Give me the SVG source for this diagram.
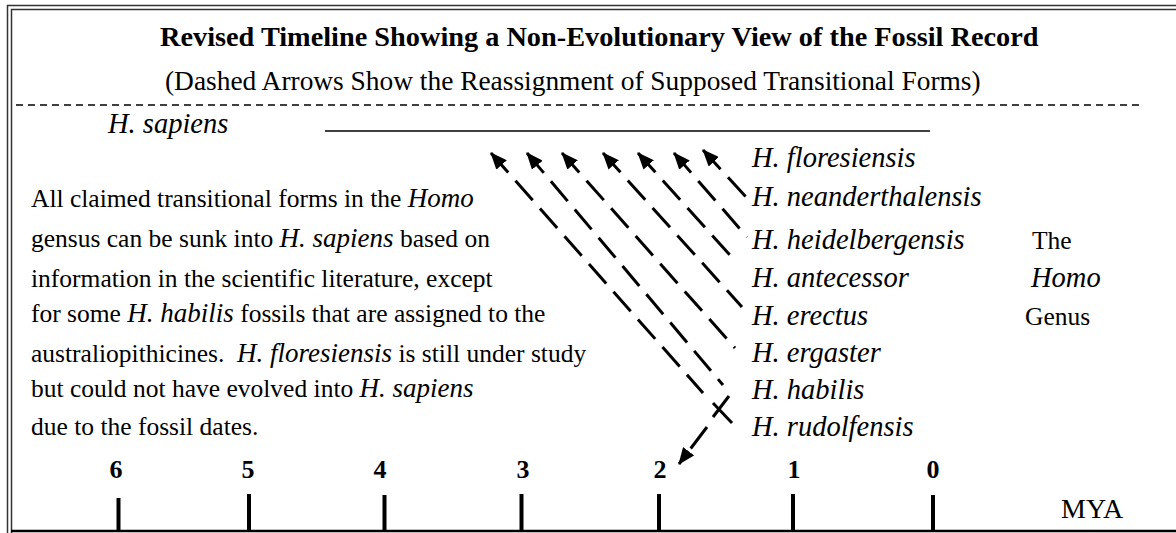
<svg xmlns="http://www.w3.org/2000/svg" width="1176" height="533" viewBox="0 0 1176 533">
<style>
text{font-family:"Liberation Serif","Times New Roman",serif;fill:#000}
.title{font-size:28.3px;font-weight:bold}
.sub{font-size:27.4px}
.body{font-size:25.5px;white-space:pre}
.it{font-style:italic;font-size:27px}
.lab{font-size:28.5px;font-style:italic}
.num{font-size:26px;font-weight:bold;text-anchor:middle}
.frame{stroke:#333;stroke-width:1.5;fill:none}
.arrow{stroke:#000;stroke-width:3;fill:none;stroke-dasharray:26 11}
.tick{stroke:#000;stroke-width:4}
</style>
<defs>
<marker id="ah" markerUnits="userSpaceOnUse" markerWidth="17" markerHeight="14" viewBox="0 0 17 14" refX="16" refY="7" orient="auto-start-reverse">
<path d="M0,0 L17,7 L0,14 z" fill="#000"/>
</marker>
</defs>
<rect width="1176" height="533" fill="#fff"/>
<g id="frame">
<path class="frame" d="M7.5,533 V5.5 H1176"/>
<path class="frame" d="M11.5,533 V9.5 H1176"/>
<line x1="11" y1="531" x2="1176" y2="531" stroke="#000" stroke-width="2.5"/>
<line x1="16" y1="105" x2="1140" y2="105" stroke="#000" stroke-width="1.3" stroke-dasharray="7 5"/>
</g>
<g id="header">
<text class="title" x="160" y="46">Revised Timeline Showing a Non-Evolutionary View of the Fossil Record</text>
<text class="sub" x="165" y="90">(Dashed Arrows Show the Reassignment of Supposed Transitional Forms)</text>
</g>
<g id="sapiens">
<text class="lab" x="108" y="133">H. sapiens</text>
<line x1="325" y1="131" x2="930" y2="131" stroke="#000" stroke-width="1.6"/>
</g>
<g id="paragraph">
<text class="body" x="31" y="207">All claimed transitional forms in the <tspan class="it">Homo</tspan></text>
<text class="body" x="31" y="247">gensus can be sunk into <tspan class="it">H. sapiens</tspan> based on</text>
<text class="body" x="31" y="287">information in the scientific literature, except</text>
<text class="body" x="31" y="322">for some <tspan class="it">H. habilis</tspan> fossils that are assigned to the</text>
<text class="body" x="31" y="362">australiopithicines.  <tspan class="it">H. floresiensis</tspan> is still under study</text>
<text class="body" x="31" y="397">but could not have evolved into <tspan class="it">H. sapiens</tspan></text>
<text class="body" x="31" y="435">due to the fossil dates.</text>
</g>
<g id="species">
<text class="lab" x="752" y="167">H. floresiensis</text>
<text class="lab" x="752" y="206">H. neanderthalensis</text>
<text class="lab" x="752" y="249">H. heidelbergensis</text>
<text class="lab" x="752" y="287">H. antecessor</text>
<text class="lab" x="752" y="325">H. erectus</text>
<text class="lab" x="752" y="362">H. ergaster</text>
<text class="lab" x="752" y="399">H. habilis</text>
<text class="lab" x="752" y="436">H. rudolfensis</text>
</g>
<g id="genus">
<text class="body" x="1032" y="249">The</text>
<text class="lab" x="1031" y="287">Homo</text>
<text class="body" x="1025" y="325">Genus</text>
</g>
<g id="connectors">
<path class="arrow" marker-start="url(#ah)" d="M491,153 L703,393"/>
<path class="arrow" marker-start="url(#ah)" d="M527,153 L723,385"/>
<path class="arrow" marker-start="url(#ah)" d="M562,153 L735,348"/>
<path class="arrow" marker-start="url(#ah)" d="M603,153 L742,307"/>
<path class="arrow" marker-start="url(#ah)" d="M638,153 L737,263"/>
<path class="arrow" marker-start="url(#ah)" d="M674,153 L747,237"/>
<path class="arrow" marker-start="url(#ah)" d="M703,150 L747,198"/>
<path d="M713,403 L732,423 M713,417 L729,396" stroke="#000" stroke-width="3" fill="none"/>
<path d="M707,427 L679,464" stroke="#000" stroke-width="3" fill="none" stroke-dasharray="27 6" marker-end="url(#ah)"/>
</g>
<g id="axis">
<text class="num" x="116" y="478">6</text>
<text class="num" x="248" y="478">5</text>
<text class="num" x="380" y="478">4</text>
<text class="num" x="523" y="478">3</text>
<text class="num" x="660" y="478">2</text>
<text class="num" x="794" y="478">1</text>
<text class="num" x="933" y="478">0</text>
<line class="tick" x1="118.5" y1="498" x2="118.5" y2="531"/>
<line class="tick" x1="249" y1="494" x2="249" y2="531"/>
<line class="tick" x1="384.5" y1="495" x2="384.5" y2="531"/>
<line class="tick" x1="521.5" y1="494" x2="521.5" y2="531"/>
<line class="tick" x1="659" y1="494" x2="659" y2="531"/>
<line class="tick" x1="793" y1="494" x2="793" y2="531"/>
<line class="tick" x1="933" y1="495" x2="933" y2="531"/>
<text class="body" x="1061" y="518" style="font-size:28px">MYA</text>
</g>
</svg>
